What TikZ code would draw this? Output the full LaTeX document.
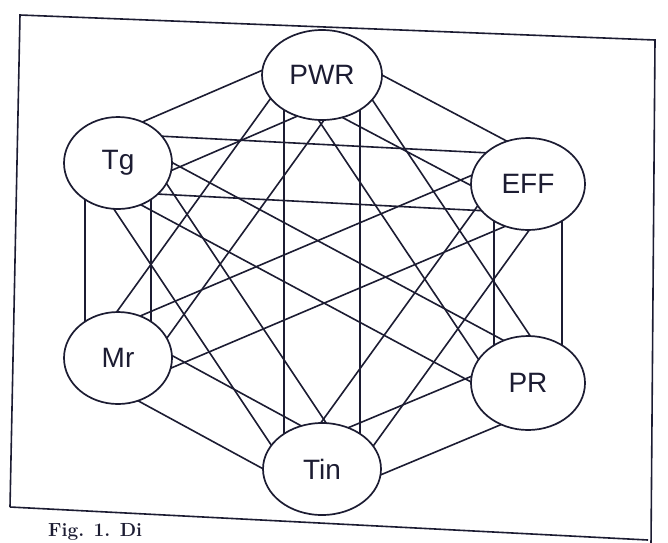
\documentclass[tikz,border=0pt]{standalone}
\usepackage{fontspec}
\newfontfamily\sansf{Liberation Sans}
\usetikzlibrary{shapes.geometric,calc}
\definecolor{ink}{RGB}{28,28,50}
\pgfdeclarelayer{bg}
\pgfsetlayers{bg,main}

% two parallel links between nodes #1 and #2, each #3 away from the centre line
\newcommand\pairlines[3]{%
  \draw[link] ($(#1)!#3!90:(#2)$) -- ($(#2)!#3!-90:(#1)$);
  \draw[link] ($(#1)!#3!-90:(#2)$) -- ($(#2)!#3!90:(#1)$);
}

\begin{document}
\begin{tikzpicture}[x=1pt,y=-1pt,
  var/.style={ellipse, draw=ink, line width=1.7pt, fill=white, inner sep=0pt,
              text=ink, font=\sansf\fontsize{28}{30}\selectfont},
  link/.style={draw=ink, line width=1.6pt},
  frameline/.style={draw=ink, line width=1.6pt}]
\useasboundingbox (0,0) rectangle (668,542);

% variables
\node[var, minimum width=120pt, minimum height=90pt] (PWR) at (322,75)  {PWR};
\node[var, minimum width=108pt, minimum height=92pt] (Tg)  at (118,163) {Tg};
\node[var, minimum width=114pt, minimum height=92pt] (EFF) at (528,184) {EFF};
\node[var, minimum width=108pt, minimum height=92pt] (Mr)  at (118,358) {Mr};
\node[var, minimum width=114pt, minimum height=94pt] (PR)  at (528,383) {PR};
\node[var, minimum width=118pt, minimum height=92pt] (Tin) at (322,469) {Tin};

% links, kept under the filled ellipses
\begin{pgfonlayer}{bg}
  \fill[white] (0,0) rectangle (668,542);
  \pairlines{PWR}{Tg}{28pt}
  \pairlines{PWR}{EFF}{28pt}
  \pairlines{PWR}{Mr}{28pt}
  \pairlines{PWR}{PR}{28pt}
  \pairlines{PWR}{Tin}{38pt}
  \pairlines{Tg}{EFF}{29pt}
  \pairlines{Tg}{Mr}{33pt}
  \pairlines{Tg}{PR}{26pt}
  \pairlines{Tg}{Tin}{29pt}
  \pairlines{EFF}{Mr}{30pt}
  \pairlines{EFF}{PR}{34pt}
  \pairlines{EFF}{Tin}{28pt}
  \pairlines{Mr}{Tin}{28pt}
  \pairlines{PR}{Tin}{28pt}
\end{pgfonlayer}

% tilted frame around the graph
\coordinate (tl) at (20,15);
\coordinate (tr) at (655,40);
\coordinate (bl) at (10,507);
\coordinate (br) at (648,540);
\coordinate (rb) at (651,545);
\draw[frameline] (bl) -- (tl) -- (tr) -- (rb);
\draw[frameline] (bl) -- (br);

% caption below the frame
\node[anchor=base west, inner sep=0pt, text=ink,
      font=\bfseries\fontsize{19}{21}\selectfont] (cap) at (48,536) {Fig. 1. Di};
\end{tikzpicture}
\end{document}
